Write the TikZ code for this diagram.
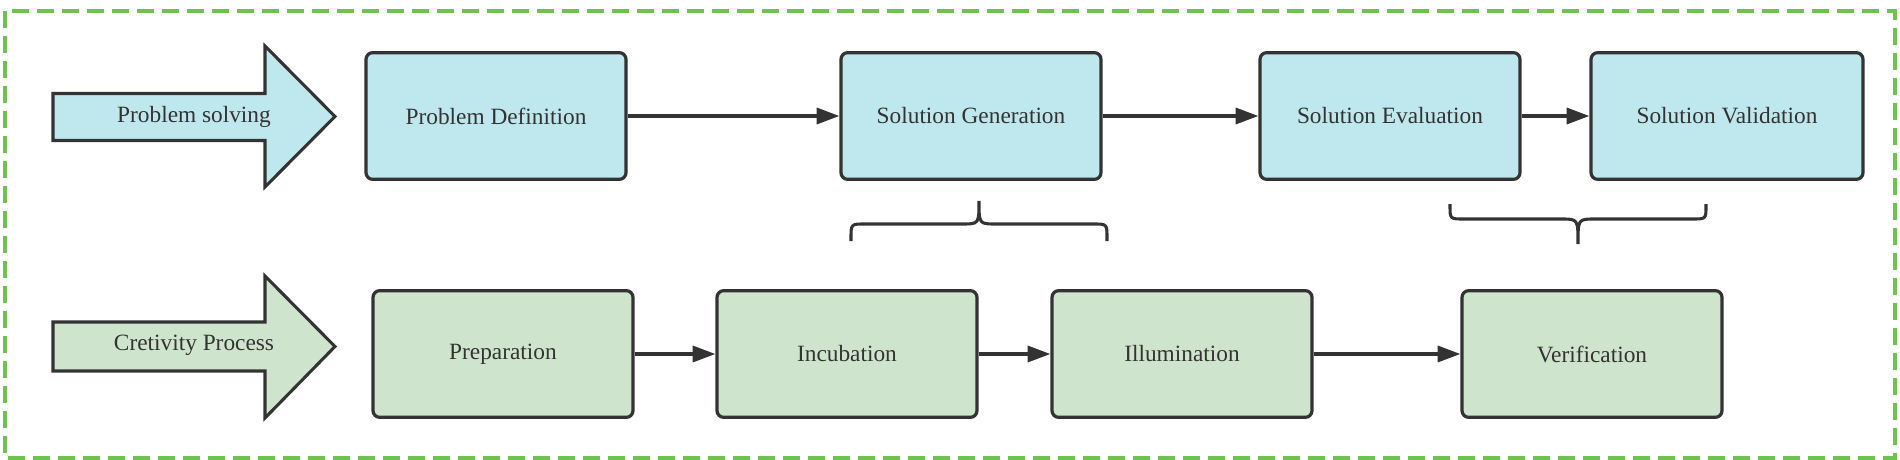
\documentclass[tikz,border=0pt]{standalone}
\usepackage{fontspec}
\setmainfont{Liberation Serif}
\usetikzlibrary{arrows.meta}
\definecolor{bluefill}{HTML}{BFE8EE}
\definecolor{greenfill}{HTML}{CFE4CC}
\definecolor{edge}{HTML}{333333}
\definecolor{frame}{HTML}{6CC44E}
\tikzset{
  stage/.style={draw=edge, line width=2.4pt, rounded corners=5pt, minimum height=95pt,
    minimum width=195pt, inner sep=0pt, font=\fontsize{17.5}{20}\selectfont, text=edge},
  bluestage/.style={stage, fill=bluefill},
  greenstage/.style={stage, fill=greenfill},
  flow/.style={draw=edge, line width=2.4pt, -{Triangle[length=17pt,width=12pt]}},
  bigarrow/.style={draw=edge, line width=2.3pt, line join=miter},
  bracepath/.style={draw=edge, line width=2.3pt},
  lbl/.style={font=\fontsize{17.5}{20}\selectfont, text=edge, inner sep=0pt}
}
\begin{document}
\begin{tikzpicture}[x=0.75pt,y=-0.75pt]
\useasboundingbox (0,0) rectangle (1900,460);
% frame
\draw[frame, line width=2.6pt, dash pattern=on 12.75pt off 6pt] (5,11) rectangle (1895,458);
% big arrows
\draw[bigarrow, fill=bluefill] (53,93.5) -- (265,93.5) -- (265,46) -- (335,116.5) -- (265,187) -- (265,140.5) -- (53,140.5) -- cycle;
\node[lbl] (ps) at (194,116.5) {Problem solving};
\draw[bigarrow, fill=greenfill] (53,322) -- (265,322) -- (265,276) -- (335,346.5) -- (265,418) -- (265,371) -- (53,371) -- cycle;
\node[lbl] (cp) at (194,345) {Cretivity Process};
% top row
\node[bluestage] (pd) at (496,116) {Problem Definition};
\node[bluestage] (sg) at (971,116) {Solution Generation};
\node[bluestage] (se) at (1390,116) {Solution Evaluation};
\node[bluestage, minimum width=204pt] (sv) at (1727,116) {Solution Validation};
% bottom row
\node[greenstage] (pr) at (503,354) {Preparation};
\node[greenstage] (in) at (847,354) {Incubation};
\node[greenstage] (il) at (1182,354) {Illumination};
\node[greenstage] (ve) at (1592,354) {Verification};
% connectors
\draw[flow] (pd) -- (sg);
\draw[flow] (sg) -- (se);
\draw[flow] (se) -- (sv);
\draw[flow] (pr) -- (in);
\draw[flow] (in) -- (il);
\draw[flow] (il) -- (ve);
% braces
\draw[bracepath] (851,241) -- (851,238) .. controls (851,224) .. (865,224) -- (962,224)
  .. controls (979,224) .. (979,201) .. controls (979,224) .. (996,224) -- (1093,224)
  .. controls (1107,224) .. (1107,238) -- (1107,241);
\draw[bracepath] (1450,204) -- (1450,206) .. controls (1450,219) .. (1464,219) -- (1561,219)
  .. controls (1578,219) .. (1578,244) .. controls (1578,219) .. (1595,219) -- (1692,219)
  .. controls (1706,219) .. (1706,206) -- (1706,204);
\end{tikzpicture}
\end{document}
